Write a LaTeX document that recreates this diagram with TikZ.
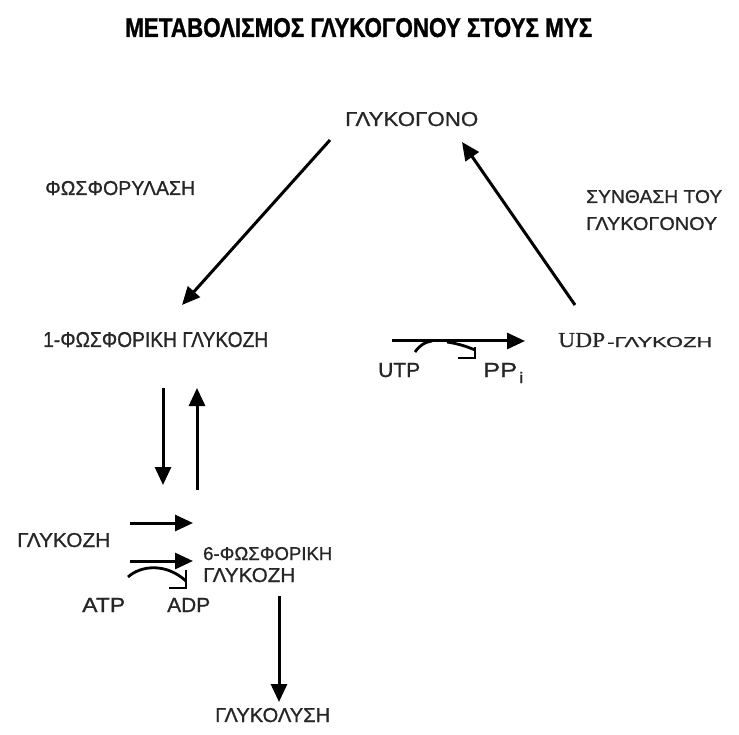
\documentclass[tikz,border=0pt]{standalone}
\usepackage{fontspec}
\setmainfont[FakeBold=0.9]{Liberation Sans}
\newfontfamily\serifgr[FakeBold=0.5]{Liberation Serif}
\newfontfamily\titlefont[FakeBold=1.2]{Liberation Sans Bold}
\usetikzlibrary{arrows.meta}
\newcommand{\fb}[3]{\resizebox{#1pt}{#2pt}{#3}}
\begin{document}
\begin{tikzpicture}[x=1pt,y=-1pt,
  lbl/.style={inner sep=0pt,anchor=base west,text=black!85},
  arr/.style={line width=3pt,-{Triangle[length=18pt,width=16pt]}},
  hook/.style={line width=2.8pt}]
\useasboundingbox[fill=white] (0,0) rectangle (739,735);

% texts
\node[lbl,text=black] (title) at (125,37) {\fb{467}{19}{\titlefont ΜΕΤΑΒΟΛΙΣΜΟΣ ΓΛΥΚΟΓΟΝΟΥ ΣΤΟΥΣ ΜΥΣ}};
\node[lbl] (glycogen) at (345,126) {\fb{133}{14}{ΓΛΥΚΟΓΟΝΟ}};
\node[lbl] (phos) at (45,195) {\fb{150}{14}{ΦΩΣΦΟΡΥΛΑΣΗ}};
\node[lbl] (synth1) at (586,203) {\fb{136}{13}{ΣΥΝΘΑΣΗ ΤΟΥ}};
\node[lbl] (synth2) at (586,230) {\fb{131}{13}{ΓΛΥΚΟΓΟΝΟΥ}};
\node[lbl] (g1p) at (43,347) {\fb{225}{15}{1-ΦΩΣΦΟΡΙΚΗ ΓΛΥΚΟΖΗ}};
\node[lbl] (udp) at (558,347) {\fb{47}{14}{\serifgr UDP}};
\node[lbl] (udpg) at (607,347) {\fb{105}{10}{-ΓΛΥΚΟΖΗ}};
\node[lbl] (utp) at (378,377) {\fb{42}{14}{UTP}};
\node[lbl] (ppi) at (483,377) {\fb{34}{14}{PP}};
\node[lbl] (ppisub) at (519,383) {\fb{4}{11}{i}};
\node[lbl] (glu) at (17,547) {\fb{93}{14}{ΓΛΥΚΟΖΗ}};
\node[lbl] (g6pa) at (203,560) {\fb{129}{13}{6-ΦΩΣΦΟΡΙΚΗ}};
\node[lbl] (g6pb) at (203,582) {\fb{92}{14}{ΓΛΥΚΟΖΗ}};
\node[lbl] (atp) at (82,612) {\fb{43}{14}{ATP}};
\node[lbl] (adp) at (167,612) {\fb{43}{14}{ADP}};
\node[lbl] (glycol) at (215,722) {\fb{115}{14}{ΓΛΥΚΟΛΥΣΗ}};

% arrow end points
\coordinate (a1s) at (330,140); \coordinate (a1e) at (182,305);
\coordinate (a2s) at (575,305); \coordinate (a2e) at (462,142);
\coordinate (a3s) at (163,388); \coordinate (a3e) at (163,485);
\coordinate (a4s) at (197,490); \coordinate (a4e) at (197,388);
\coordinate (a5s) at (130,523); \coordinate (a5e) at (193,523);
\coordinate (a6s) at (130,561); \coordinate (a6e) at (193,561);
\coordinate (a7s) at (279,596); \coordinate (a7e) at (279,702);
\coordinate (a8s) at (392,341); \coordinate (a8e) at (525,341);

\draw[arr] (a1s) -- (a1e);
\draw[arr] (a2s) -- (a2e);
\draw[arr] (a3s) -- (a3e);
\draw[arr] (a4s) -- (a4e);
\draw[arr] (a5s) -- (a5e);
\draw[arr] (a6s) -- (a6e);
\draw[arr] (a7s) -- (a7e);
\draw[arr] (a8s) -- (a8e);

% UTP -> PPi side reaction
\coordinate (u1) at (415,352); \coordinate (u2) at (432,341);
\coordinate (u3) at (447,342); \coordinate (u4) at (475,350);
\coordinate (u5) at (458,358); \coordinate (u6) at (475,358); \coordinate (u7) at (475,347);
\draw[hook] (u1) .. controls (420,345) and (425,342) .. (u2);
\draw[hook] (u3) .. controls (460,344) and (468,347) .. (u4);
\draw[hook] (u5) -- (u6) -- (u7);

% ATP -> ADP side reaction
\coordinate (t1) at (128,577); \coordinate (t2) at (186,581);
\coordinate (t3) at (169,588); \coordinate (t4) at (186,588); \coordinate (t5) at (186,570);
\draw[hook] (t1) .. controls (140,566) and (165,562) .. (t2);
\draw[hook] (t3) -- (t4) -- (t5);
\end{tikzpicture}
\end{document}
